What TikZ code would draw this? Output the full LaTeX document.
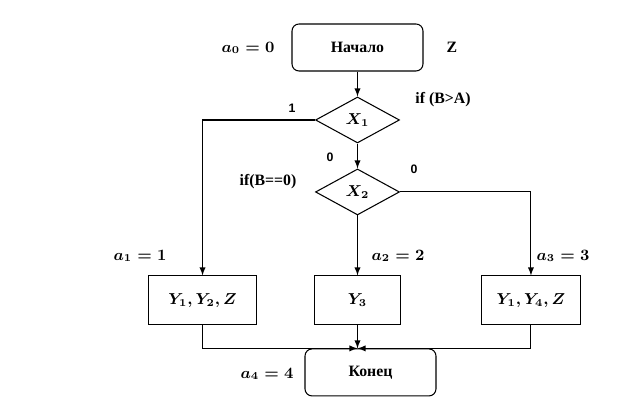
\documentclass[tikz,border=0pt]{standalone}
\usepackage{fontspec}
\setmainfont{Liberation Serif}
\setsansfont{Liberation Sans}
\usetikzlibrary{shapes.geometric,positioning,arrows}
\tikzset{flowchart/.style={auto,node distance=1cm,on grid,x=0.02cm,y=-0.02cm,line width=0.6pt}}
\tikzset{terminal/.style={draw,rounded corners=4pt,minimum width=2.62cm,minimum height=0.94cm,inner sep=1pt,font=\small\bfseries}}
\tikzset{decision/.style={draw,diamond,minimum width=1.68cm,minimum height=0.92cm,inner sep=0pt,font=\small\boldmath}}
\tikzset{process/.style={draw,minimum height=0.98cm,inner sep=1pt,font=\small\boldmath}}
\tikzset{transition/.style={->,>=latex}}
\tikzset{statelabel/.style={font=\small\boldmath}}
\tikzset{branch/.style={font=\scriptsize\sffamily\bfseries}}
\tikzset{cond/.style={font=\small\bfseries}}

\begin{document}
\begin{tikzpicture}[flowchart]
  \useasboundingbox (0,0) rectangle (637,408);
  \node[terminal] (start) at (357.5,47.5) {Начало};
  \node[decision] (x1) [below=1.45cm of start] {$X_1$};
  \node[decision] (x2) [below=1.44cm of x1] {$X_2$};
  \node[process,minimum width=1.72cm] (box2) [below=2.17cm of x2] {$Y_3$};
  \node[process,minimum width=2.16cm] (box1) [left=3.1cm of box2] {$Y_1,Y_2,Z$};
  \node[process,minimum width=1.98cm] (box3) [right=3.47cm of box2] {$Y_1,Y_4,Z$};
  \node[terminal] (finish) [below right=1.44cm and 0.26cm of box2] {Конец};
  \coordinate (merge) at (box2 |- finish.north);

  % labels
  \node[statelabel] (a0) at (248,48) {$a_0=0$};
  \node[statelabel] (a1) at (140,256) {$a_1=1$};
  \node[statelabel] (a2) at (398,256) {$a_2=2$};
  \node[statelabel] (a3) at (563,256) {$a_3=3$};
  \node[statelabel] (a4) at (267,374) {$a_4=4$};
  \node[cond] (zout) at (452,47) {Z};
  \node[cond] (ifba) at (443,100) {if (B>A)};
  \node[cond] (ifbz) at (268,182) {if(B==0)};
  \node[branch] (one) at (292,108) {1};
  \node[branch] (zeroa) at (330,157) {0};
  \node[branch] (zerob) at (414,169) {0};

  \path[transition]
    (start) edge (x1)
    (x1) edge (x2)
    (x2) edge (box2);
  \draw[transition] (x1.west) -| (box1.north);
  \draw[transition] (x2.east) -| (box3.north);
  \draw[transition] (box1.south) |- (merge);
  \draw[transition] (box3.south) |- (merge);
  \draw[transition] (box2.south) -- (merge);
\end{tikzpicture}
\end{document}
